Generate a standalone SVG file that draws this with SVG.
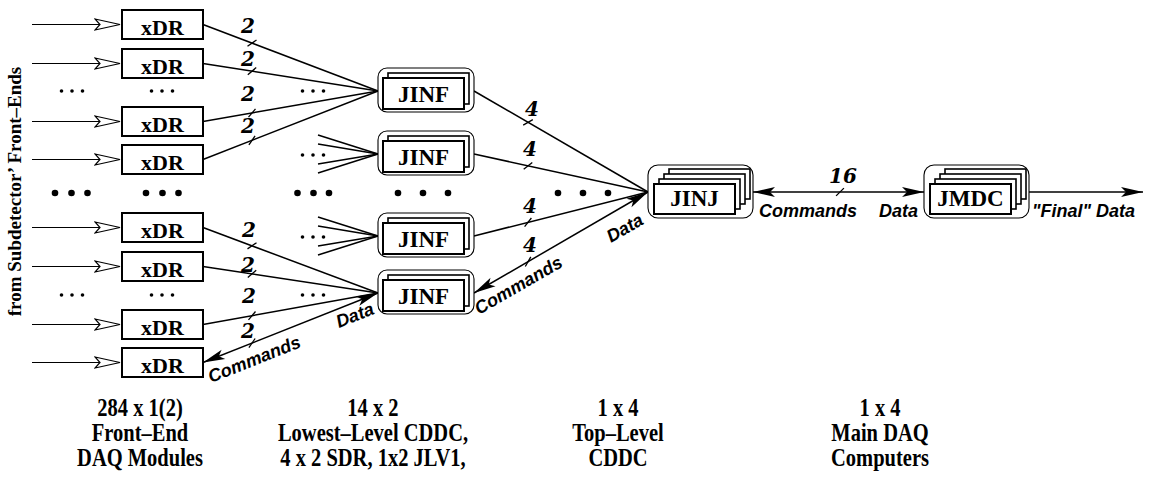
<svg xmlns="http://www.w3.org/2000/svg" width="1152" height="496" viewBox="0 0 1152 496">
<style>
.box{fill:#fff;stroke:#000;stroke-width:2}
.back{fill:#fff;stroke:#000;stroke-width:1.6}
.outer{fill:#fff;stroke:#000;stroke-width:1.1}
.lbl{font-family:"Liberation Serif","Times New Roman",serif;font-weight:bold;font-size:22px;text-anchor:middle}
.big{font-size:23px}
.num{font-family:"DejaVu Serif","Liberation Serif",serif;font-weight:bold;font-style:italic;font-size:20px;text-anchor:middle}
.sig{font-family:"Liberation Sans",Arial,sans-serif;font-weight:bold;font-style:italic;font-size:18px}
.ln{stroke:#000;stroke-width:1.5;fill:none}
.in{stroke:#000;stroke-width:1.2;fill:none}
.tick{stroke:#000;stroke-width:1.3}
.cap{font-family:"Liberation Serif","Times New Roman",serif;font-weight:bold;font-size:25px;text-anchor:middle}
.side{font-family:"Liberation Serif","Times New Roman",serif;font-weight:bold;font-size:19px;text-anchor:middle}
</style>
<defs>
<marker id="oa" viewBox="-26 -7 27 14" refX="0" refY="0" markerWidth="27" markerHeight="14" markerUnits="userSpaceOnUse" orient="auto">
<path d="M0,0 L-25,-5.5 L-20,0 L-25,5.5 Z" fill="#fff" stroke="#000" stroke-width="1.2"/>
</marker>
<marker id="ah" viewBox="-23 -6 24 12" refX="0" refY="0" markerWidth="24" markerHeight="12" markerUnits="userSpaceOnUse" orient="auto-start-reverse">
<path d="M0,0 L-22,-5 L-17,0 L-22,5 Z" fill="#000"/>
</marker>
</defs>
<rect x="0" y="0" width="1152" height="496" fill="#fff"/>

<g id="connectors">
<g id="inputs">
<line class="in" x1="32" y1="24.5" x2="120" y2="24.5" marker-end="url(#oa)"/>
<line class="in" x1="32" y1="63.5" x2="120" y2="63.5" marker-end="url(#oa)"/>
<line class="in" x1="32" y1="121.5" x2="120" y2="121.5" marker-end="url(#oa)"/>
<line class="in" x1="32" y1="159.5" x2="120" y2="159.5" marker-end="url(#oa)"/>
<line class="in" x1="32" y1="227.5" x2="120" y2="227.5" marker-end="url(#oa)"/>
<line class="in" x1="32" y1="266.5" x2="120" y2="266.5" marker-end="url(#oa)"/>
<line class="in" x1="32" y1="324.5" x2="120" y2="324.5" marker-end="url(#oa)"/>
<line class="in" x1="32" y1="362.5" x2="120" y2="362.5" marker-end="url(#oa)"/>
</g>
<g id="xdr-to-jinf">
<line class="ln" x1="203" y1="24.5" x2="378" y2="91"/>
<line class="ln" x1="203" y1="63.5" x2="378" y2="91"/>
<line class="ln" x1="203" y1="121.5" x2="378" y2="91"/>
<line class="ln" x1="203" y1="159.5" x2="378" y2="91"/>
<line class="ln" x1="203" y1="227.5" x2="378" y2="293"/>
<line class="ln" x1="203" y1="266.5" x2="378" y2="293"/>
<line class="ln" x1="203" y1="324.5" x2="378" y2="293"/>
<line class="ln" x1="203" y1="362.5" x2="378" y2="293" marker-start="url(#ah)" marker-end="url(#ah)"/>
</g>
<g id="fans">
<line class="ln" x1="318" y1="135" x2="378" y2="154"/>
<line class="ln" x1="318" y1="144" x2="378" y2="154"/>
<line class="ln" x1="318" y1="164" x2="378" y2="154"/>
<line class="ln" x1="318" y1="173" x2="378" y2="154"/>
<line class="ln" x1="318" y1="217" x2="378" y2="236"/>
<line class="ln" x1="318" y1="226" x2="378" y2="236"/>
<line class="ln" x1="318" y1="246" x2="378" y2="236"/>
<line class="ln" x1="318" y1="255" x2="378" y2="236"/>
</g>
<g id="jinf-to-jinj">
<line class="ln" x1="474" y1="91" x2="648" y2="192"/>
<line class="ln" x1="474" y1="154" x2="648" y2="192"/>
<line class="ln" x1="474" y1="236" x2="648" y2="192"/>
<line class="ln" x1="474" y1="293" x2="648" y2="192" marker-start="url(#ah)" marker-end="url(#ah)"/>
</g>
<line class="ln" x1="753" y1="192" x2="924" y2="192" marker-start="url(#ah)" marker-end="url(#ah)"/>
<line class="ln" x1="1029" y1="192" x2="1143" y2="192" marker-end="url(#ah)"/>
<g id="ticks">
<line class="tick" x1="247.5" y1="46.2" x2="256.5" y2="40"/>
<line class="tick" x1="247.8" y1="74.8" x2="256.2" y2="67.6"/>
<line class="tick" x1="248.5" y1="117.2" x2="255.5" y2="108.8"/>
<line class="tick" x1="248.9" y1="144.8" x2="255.1" y2="135.8"/>
<line class="tick" x1="247.5" y1="248.9" x2="256.5" y2="242.7"/>
<line class="tick" x1="247.8" y1="277.5" x2="256.2" y2="270.3"/>
<line class="tick" x1="248.5" y1="319.9" x2="255.5" y2="311.5"/>
<line class="tick" x1="248.9" y1="347.6" x2="255.1" y2="338.5"/>
<line class="tick" x1="523.2" y1="125.1" x2="532.8" y2="119.6"/>
<line class="tick" x1="523.7" y1="169.3" x2="532.3" y2="162.4"/>
<line class="tick" x1="524.6" y1="226.6" x2="531.4" y2="218"/>
<line class="tick" x1="525.3" y1="266.5" x2="530.8" y2="256.9"/>
<line class="tick" x1="836.1" y1="195.9" x2="843.9" y2="188.1"/>
</g>
</g>

<g id="xdr1"><rect class="box" x="122" y="10" width="81" height="29"/><text class="lbl" x="162.5" y="35">xDR</text></g>
<g id="xdr2"><rect class="box" x="122" y="49" width="81" height="29"/><text class="lbl" x="162.5" y="74">xDR</text></g>
<g id="xdr3"><rect class="box" x="122" y="107" width="81" height="29"/><text class="lbl" x="162.5" y="132">xDR</text></g>
<g id="xdr4"><rect class="box" x="122" y="145" width="81" height="29"/><text class="lbl" x="162.5" y="170">xDR</text></g>
<g id="xdr5"><rect class="box" x="122" y="213" width="81" height="29"/><text class="lbl" x="162.5" y="238">xDR</text></g>
<g id="xdr6"><rect class="box" x="122" y="252" width="81" height="29"/><text class="lbl" x="162.5" y="277">xDR</text></g>
<g id="xdr7"><rect class="box" x="122" y="310" width="81" height="29"/><text class="lbl" x="162.5" y="335">xDR</text></g>
<g id="xdr8"><rect class="box" x="122" y="348" width="81" height="29"/><text class="lbl" x="162.5" y="373">xDR</text></g>

<g id="jinf1"><rect class="outer" x="378" y="68" width="96" height="44" rx="9"/><rect class="back" x="388" y="73" width="81" height="31"/><rect class="box" x="383" y="78" width="81" height="31"/><text class="lbl big" x="423.5" y="102">JINF</text></g>
<g id="jinf2"><rect class="outer" x="378" y="131" width="96" height="44" rx="9"/><rect class="back" x="388" y="136" width="81" height="31"/><rect class="box" x="383" y="141" width="81" height="31"/><text class="lbl big" x="423.5" y="165">JINF</text></g>
<g id="jinf3"><rect class="outer" x="378" y="213" width="96" height="44" rx="9"/><rect class="back" x="388" y="218" width="81" height="31"/><rect class="box" x="383" y="223" width="81" height="31"/><text class="lbl big" x="423.5" y="247">JINF</text></g>
<g id="jinf4"><rect class="outer" x="378" y="270" width="96" height="44" rx="9"/><rect class="back" x="388" y="275" width="81" height="31"/><rect class="box" x="383" y="280" width="81" height="31"/><text class="lbl big" x="423.5" y="304">JINF</text></g>

<g id="jinj"><rect class="outer" x="648" y="165" width="105" height="53" rx="10"/>
<rect class="back" x="669" y="169" width="81" height="30"/><rect class="back" x="664" y="174" width="81" height="30"/><rect class="back" x="659" y="179" width="81" height="30"/><rect class="box" x="654" y="184" width="81" height="30"/>
<text class="lbl big" x="694.5" y="206">JINJ</text></g>

<g id="jmdc"><rect class="outer" x="924" y="165" width="105" height="53" rx="10"/>
<rect class="back" x="945" y="169" width="81" height="30"/><rect class="back" x="940" y="174" width="81" height="30"/><rect class="back" x="935" y="179" width="81" height="30"/><rect class="box" x="930" y="184" width="81" height="30"/>
<text class="lbl big" x="970.5" y="206">JMDC</text></g>

<g id="numbers">
<text class="num" x="248" y="33">2</text>
<text class="num" x="248" y="66">2</text>
<text class="num" x="248" y="101">2</text>
<text class="num" x="248" y="133">2</text>
<text class="num" x="249" y="237">2</text>
<text class="num" x="248" y="272">2</text>
<text class="num" x="249" y="303">2</text>
<text class="num" x="248" y="338">2</text>
<text class="num" x="532" y="116">4</text>
<text class="num" x="530" y="156">4</text>
<text class="num" x="530" y="213">4</text>
<text class="num" x="530" y="252">4</text>
<text class="num" x="843" y="183">16</text>
</g>

<g id="signal-labels">
<text class="sig" transform="translate(211,383) rotate(-21.7)">Commands</text>
<text class="sig" transform="translate(339,328) rotate(-21.7)">Data</text>
<text class="sig" transform="translate(479,315) rotate(-30)">Commands</text>
<text class="sig" transform="translate(611,243) rotate(-30)">Data</text>
<text class="sig" x="759" y="217">Commands</text>
<text class="sig" x="879" y="217">Data</text>
<text class="sig" x="1032" y="217">"Final" Data</text>
</g>

<g id="dots" fill="#000">
<circle cx="61.5" cy="91" r="1.8"/><circle cx="72" cy="91" r="1.8"/><circle cx="82.5" cy="91" r="1.8"/>
<circle cx="151.5" cy="91" r="1.8"/><circle cx="162" cy="91" r="1.8"/><circle cx="172.5" cy="91" r="1.8"/>
<circle cx="302.5" cy="91" r="1.8"/><circle cx="313" cy="91" r="1.8"/><circle cx="323.5" cy="91" r="1.8"/>
<circle cx="302.5" cy="155" r="1.8"/><circle cx="313" cy="155" r="1.8"/><circle cx="323.5" cy="155" r="1.8"/>
<circle cx="302.5" cy="237" r="1.8"/><circle cx="313" cy="237" r="1.8"/><circle cx="323.5" cy="237" r="1.8"/>
<circle cx="61.5" cy="295" r="1.8"/><circle cx="72" cy="295" r="1.8"/><circle cx="82.5" cy="295" r="1.8"/>
<circle cx="151.5" cy="295" r="1.8"/><circle cx="162" cy="295" r="1.8"/><circle cx="172.5" cy="295" r="1.8"/>
<circle cx="302.5" cy="295" r="1.8"/><circle cx="313" cy="295" r="1.8"/><circle cx="323.5" cy="295" r="1.8"/>
<circle cx="55" cy="193" r="3.3"/><circle cx="71.5" cy="193" r="3.3"/><circle cx="87.5" cy="193" r="3.3"/>
<circle cx="146" cy="193" r="3.3"/><circle cx="162.5" cy="193" r="3.3"/><circle cx="178.5" cy="193" r="3.3"/>
<circle cx="297.5" cy="193" r="3.3"/><circle cx="313.5" cy="193" r="3.3"/><circle cx="329" cy="193" r="3.3"/>
<circle cx="398" cy="193" r="3.3"/><circle cx="423" cy="193" r="3.3"/><circle cx="448" cy="193" r="3.3"/>
<circle cx="558" cy="193" r="3.3"/><circle cx="583" cy="193" r="3.3"/><circle cx="608" cy="193" r="3.3"/>
</g>

<text class="side" transform="translate(20.5,191.5) rotate(-90)">from Subdetector’ Front–Ends</text>

<g id="captions">
<g transform="matrix(0.82 0 0 1 140 0)"><text class="cap" x="0" y="416">284 x 1(2)</text><text class="cap" x="0" y="441">Front–End</text><text class="cap" x="0" y="466">DAQ Modules</text></g>
<g transform="matrix(0.82 0 0 1 373 0)"><text class="cap" x="0" y="416">14 x 2</text><text class="cap" x="0" y="441">Lowest–Level CDDC,</text><text class="cap" x="0" y="466">4 x 2 SDR, 1x2 JLV1,</text></g>
<g transform="matrix(0.82 0 0 1 618 0)"><text class="cap" x="0" y="416">1 x 4</text><text class="cap" x="0" y="441">Top–Level</text><text class="cap" x="0" y="466">CDDC</text></g>
<g transform="matrix(0.82 0 0 1 880 0)"><text class="cap" x="0" y="416">1 x 4</text><text class="cap" x="0" y="441">Main DAQ</text><text class="cap" x="0" y="466">Computers</text></g>
</g>
</svg>
